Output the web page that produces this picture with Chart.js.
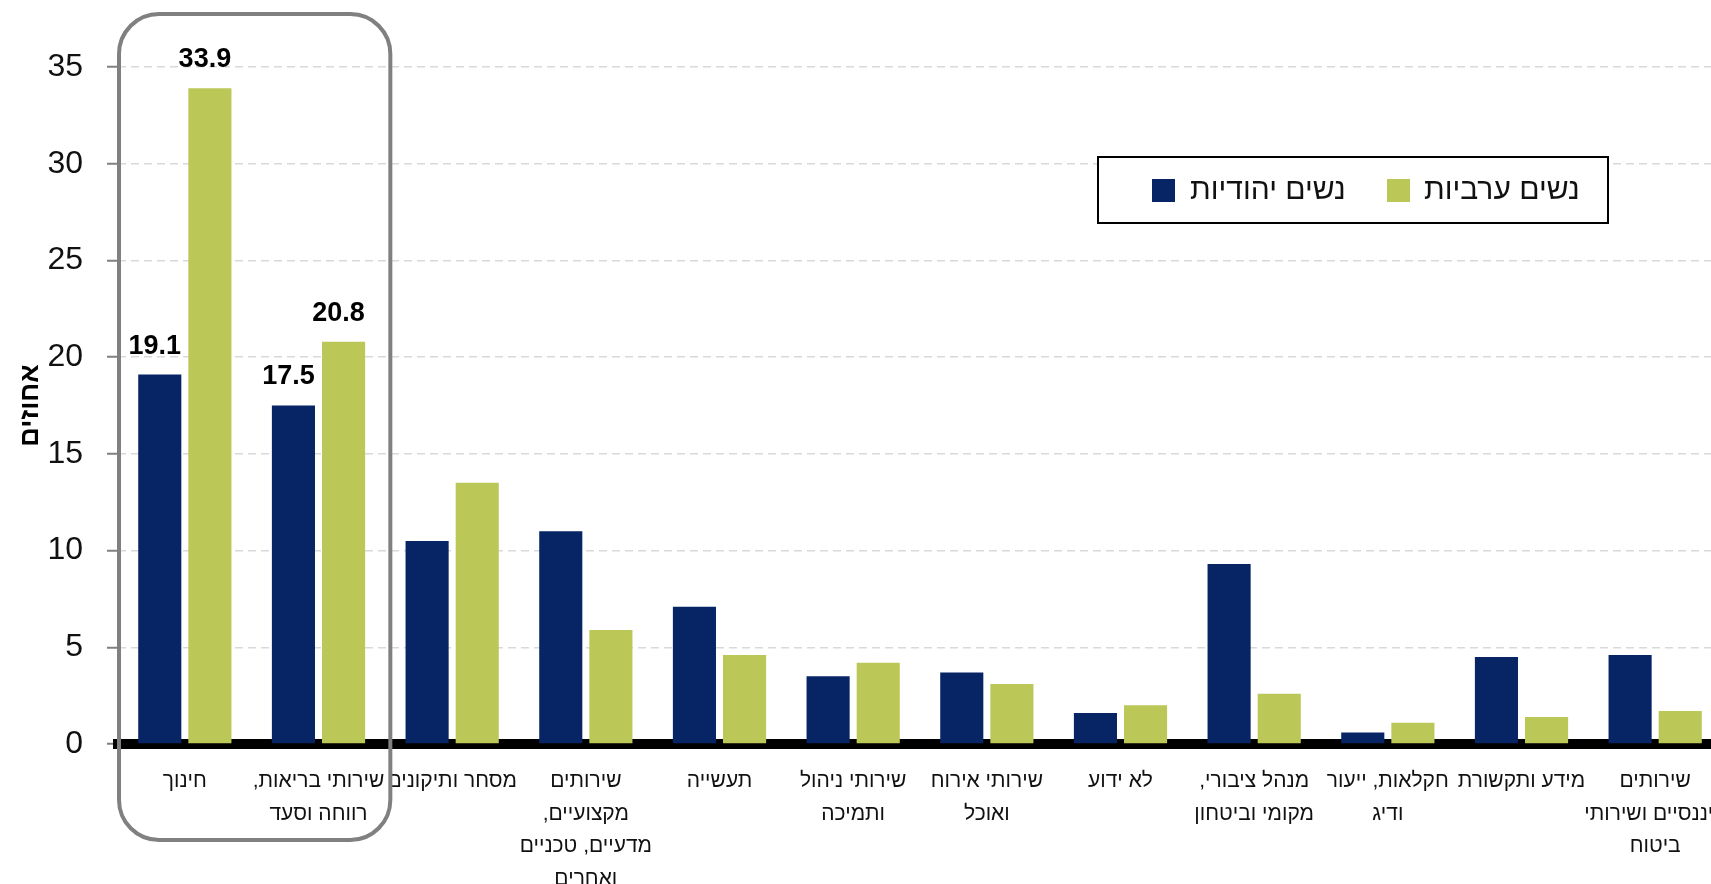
<!DOCTYPE html>
<html lang="he">
<head>
<meta charset="utf-8">
<script src="https://cdn.jsdelivr.net/npm/chart.js@4.4.1/dist/chart.umd.min.js"></script>
<style>
  html, body { margin: 0; padding: 0; background: #fff; overflow: hidden; }
  #wrap { position: relative; width: 1722px; height: 892px; }
</style>
</head>
<body>
<div id="wrap"><canvas id="chart" dir="rtl" width="1722" height="892"></canvas></div>
<script>
// industries (x axis), as printed, one entry per line
const categories = [
  'חינוך',
  ['שירותי בריאות,', 'רווחה וסעד'],
  'מסחר ותיקונים',
  ['שירותים', 'מקצועיים,', 'מדעיים, טכניים', 'ואחרים'],
  'תעשייה',
  ['שירותי ניהול', 'ותמיכה'],
  ['שירותי אירוח', 'ואוכל'],
  'לא ידוע',
  ['מנהל ציבורי,', 'מקומי וביטחון'],
  ['חקלאות, ייעור', 'ודיג'],
  'מידע ותקשורת',
  ['שירותים', 'פיננסיים ושירותי', 'ביטוח']
];
const seriesNames = ['נשים יהודיות', 'נשים ערביות'];
const jewishWomen = [19.1, 17.5, 10.5, 11.0, 7.1, 3.5, 3.7, 1.6, 9.3, 0.6, 4.5, 4.6];
const arabWomen   = [33.9, 20.8, 13.5, 5.9, 4.6, 4.2, 3.1, 2.0, 2.6, 1.1, 1.4, 1.7];
const yTicks = [0, 5, 10, 15, 20, 25, 30, 35];
const yTitle = 'אחוזים';
const highlighted = 2; // first two industries are boxed and get value labels

const BLUE = '#072565';
const GREEN = '#bbc858';
const NUM_FONT = "'Liberation Sans Narrow', 'Liberation Sans', sans-serif";
const HEB_FONT = "'Liberation Sans', 'DejaVu Sans Condensed', sans-serif";

// grey rounded box round the highlighted industries
const highlightBox = {
  id: 'highlightBox',
  afterDatasetsDraw(chart) {
    const { ctx, chartArea, scales: { x } } = chart;
    const step = x.getPixelForValue(1) - x.getPixelForValue(0);
    const left = x.getPixelForValue(0) - step / 2 + 1;
    const right = x.getPixelForValue(highlighted - 1) + step / 2 + 5;
    const top = chartArea.top - 53;
    const bottom = chartArea.bottom + 96;
    ctx.save();
    ctx.strokeStyle = '#808080';
    ctx.lineWidth = 4;
    ctx.beginPath();
    ctx.roundRect(left, top, right - left, bottom - top, 40);
    ctx.stroke();
    ctx.restore();
  }
};

// bold value labels on the highlighted bars
const valueLabels = {
  id: 'valueLabels',
  afterDatasetsDraw(chart) {
    const { ctx } = chart;
    ctx.save();
    ctx.font = "bold 27px " + NUM_FONT;
    ctx.fillStyle = '#000';
    ctx.textAlign = 'center';
    ctx.textBaseline = 'bottom';
    chart.data.datasets.forEach((ds, di) => {
      const meta = chart.getDatasetMeta(di);
      for (let i = 0; i < highlighted; i++) {
        const bar = meta.data[i];
        ctx.fillText(ds.data[i].toFixed(1), bar.x - 5, bar.y - 15);
      }
    });
    ctx.restore();
  }
};

// framed legend inside the plot, top right
const boxLegend = {
  id: 'boxLegend',
  afterDraw(chart) {
    const { ctx } = chart;
    const box = { x: 1098, y: 157, w: 510, h: 66 };
    const items = [{ sq: 1152, tx: 1190 }, { sq: 1387, tx: 1424 }];
    ctx.save();
    ctx.fillStyle = '#fff';
    ctx.fillRect(box.x, box.y, box.w, box.h);
    ctx.strokeStyle = '#000';
    ctx.lineWidth = 2;
    ctx.strokeRect(box.x, box.y, box.w, box.h);
    ctx.font = "30px " + HEB_FONT;
    ctx.textAlign = 'left';
    ctx.textBaseline = 'middle';
    chart.data.datasets.forEach((ds, i) => {
      ctx.fillStyle = ds.backgroundColor;
      ctx.fillRect(items[i].sq, box.y + 22, 23, 23);
      ctx.fillStyle = '#111';
      ctx.fillText(ds.label, items[i].tx, box.y + 34);
    });
    ctx.restore();
  }
};

new Chart(document.getElementById('chart'), {
  type: 'bar',
  data: {
    labels: categories,
    datasets: [
      { label: seriesNames[0], data: jewishWomen, backgroundColor: BLUE },
      { label: seriesNames[1], data: arabWomen, backgroundColor: GREEN }
    ]
  },
  options: {
    responsive: false,
    animation: false,
    datasets: { bar: { categoryPercentage: 0.75, barPercentage: 0.86 } },
    layout: { padding: { top: 67, left: 0, right: 0, bottom: 0 } },
    plugins: {
      legend: { display: false },
      tooltip: { enabled: false }
    },
    scales: {
      x: {
        afterFit: axis => { axis.height = 148; axis.paddingLeft = 0; axis.paddingRight = 0; },
        grid: { display: false, drawTicks: false },
        border: { display: true, color: '#000', width: 10 },
        ticks: {
          autoSkip: false, maxRotation: 0, minRotation: 0,
          padding: 21,
          color: '#111',
          font: { family: HEB_FONT, size: 21, lineHeight: 1.55 }
        }
      },
      y: {
        min: 0, max: 35,
        afterBuildTicks: axis => { axis.ticks = yTicks.map(v => ({ value: v })); },
        afterFit: axis => { axis.width = 118; axis.paddingTop = 0; axis.paddingBottom = 0; },
        border: { display: false, dash: [8, 5] },
        grid: {
          color: '#d9d9d9', lineWidth: 1.5,
          tickLength: 11, tickColor: '#808080', tickWidth: 2, tickBorderDash: []
        },
        ticks: {
          padding: 24,
          color: '#111',
          font: { family: NUM_FONT, size: 32 }
        },
        title: {
          display: true, text: yTitle, color: '#000',
          padding: { top: 14, bottom: 0 },
          font: { family: HEB_FONT, size: 27, weight: 'bold' }
        }
      }
    }
  },
  plugins: [highlightBox, valueLabels, boxLegend]
});
</script>
</body>
</html>
